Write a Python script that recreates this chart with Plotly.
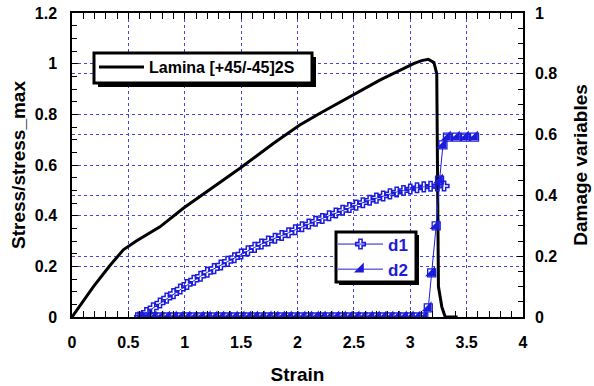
import plotly.graph_objects as go

# ---------------- data ----------------
strain_s = [0, 0.1, 0.19, 0.34, 0.455, 0.57, 0.78, 0.99, 1.135, 1.22, 1.49, 1.785,
            2.02, 2.2, 2.525, 2.73, 3.03, 3.10, 3.16, 3.21, 3.235, 3.245, 3.25, 3.28, 3.31, 3.42]
stress = [0, 0.065, 0.12, 0.205, 0.265, 0.30, 0.356, 0.43, 0.475, 0.503, 0.587, 0.685,
          0.758, 0.804, 0.883, 0.935, 1.00, 1.012, 1.017, 1.005, 0.96, 0.50, 0.12, 0.04, 0.0, 0.0]

strain_d1 = [0.60, 0.66, 0.72, 0.78, 0.84, 0.90, 0.96, 1.02, 1.08, 1.14, 1.20, 1.26, 1.32,
             1.38, 1.44, 1.50, 1.56, 1.62, 1.68, 1.74, 1.80, 1.86, 1.92, 1.98, 2.04, 2.10,
             2.16, 2.22, 2.28, 2.34, 2.40, 2.46, 2.52, 2.58, 2.64, 2.70, 2.76, 2.82, 2.88,
             2.94, 3.00, 3.06, 3.12, 3.18, 3.24, 3.30]
d1 = [0.000, 0.015, 0.030, 0.046, 0.062, 0.077, 0.092, 0.107, 0.121, 0.134, 0.147, 0.159,
      0.171, 0.183, 0.195, 0.207, 0.218, 0.229, 0.240, 0.250, 0.259, 0.268, 0.277, 0.287,
      0.297, 0.306, 0.315, 0.324, 0.333, 0.342, 0.351, 0.360, 0.368, 0.376, 0.384, 0.391,
      0.398, 0.405, 0.411, 0.416, 0.421, 0.425, 0.428, 0.430, 0.431, 0.431]

strain_d2 = [0.60, 0.66, 0.72, 0.78, 0.84, 0.90, 0.96, 1.02, 1.08, 1.14, 1.20, 1.26, 1.32,
             1.38, 1.44, 1.50, 1.56, 1.62, 1.68, 1.74, 1.80, 1.86, 1.92, 1.98, 2.04, 2.10,
             2.16, 2.22, 2.28, 2.34, 2.40, 2.46, 2.52, 2.58, 2.64, 2.70, 2.76, 2.82, 2.88,
             2.94, 3.00, 3.06, 3.12, 3.16, 3.19, 3.23, 3.26, 3.29, 3.33, 3.41, 3.49, 3.57]
d2 = [0, 0, 0, 0, 0, 0, 0, 0, 0, 0, 0, 0, 0,
      0, 0, 0, 0, 0, 0, 0, 0, 0, 0, 0, 0, 0,
      0, 0, 0, 0, 0, 0, 0, 0, 0, 0, 0, 0, 0,
      0, 0, 0, 0, 0.03, 0.145, 0.30, 0.45, 0.566, 0.592, 0.592, 0.592, 0.592]

x_ticks = [0, 0.5, 1, 1.5, 2, 2.5, 3, 3.5, 4]
y_ticks = [0, 0.2, 0.4, 0.6, 0.8, 1, 1.2]
y2_ticks = [0, 0.2, 0.4, 0.6, 0.8, 1]

# ---------------- style ----------------
W, H = 594, 386
L, R, T, B = 72, 523, 13, 317
BLUE = "#1c1cd8"
GRID = "#4444e6"
FONT = "Liberation Sans, Arial, sans-serif"


def px(xp, yp):
    return (xp - L) / (R - L), (B - yp) / (B - T)


fig = go.Figure()

fig.add_trace(go.Scatter(x=strain_s, y=stress, mode="lines",
                         line=dict(color="black", width=3),
                         name="Lamina [+45/-45]2S", legend="legend"))

fig.add_trace(go.Scatter(x=strain_d1, y=d1, mode="lines+markers", yaxis="y2",
                         line=dict(color=BLUE, width=1),
                         marker=dict(symbol="cross-open", size=8, color=BLUE,
                                     line=dict(color=BLUE, width=1.5)),
                         name="d1", legend="legend2"))

fig.add_trace(go.Scatter(x=strain_d2, y=d2, mode="lines+markers", yaxis="y2",
                         line=dict(color=BLUE, width=1),
                         marker=dict(symbol="triangle-se", size=11, color=BLUE,
                                     line=dict(width=0)),
                         name="d2", legend="legend2"))
fig.add_trace(go.Scatter(x=strain_d2, y=d2, mode="markers", yaxis="y2",
                         marker=dict(symbol="square-open", size=8, color=BLUE,
                                     line=dict(color=BLUE, width=1.3)),
                         showlegend=False, hoverinfo="skip"))

tickfont = dict(family=FONT, size=16, color="black", weight="bold")
titlefont = dict(family=FONT, size=19, color="black", weight="bold")

common = dict(ticks="inside", ticklen=6, tickcolor="black", tickwidth=1,
              showline=True, linecolor="black", linewidth=1.5,
              showgrid=True, gridcolor=GRID, griddash="dot", gridwidth=1,
              zeroline=False, tickfont=tickfont, automargin=False)

fig.update_layout(
    width=W, height=H,
    margin=dict(l=L, r=W - R, t=T, b=H - B, pad=0),
    paper_bgcolor="white", plot_bgcolor="white",
    xaxis=dict(range=[0, 4], tickvals=x_ticks, ticktext=[f"{v:g}" for v in x_ticks],
               minor=dict(dtick=0.1, ticks="inside", ticklen=5, tickcolor="black", showgrid=False),
               mirror="allticks", ticklabelstandoff=10,
               title=dict(text="Strain", font=titlefont, standoff=18), **common),
    yaxis=dict(range=[0, 1.2], tickvals=y_ticks, ticktext=[f"{v:g}" for v in y_ticks],
               minor=dict(dtick=0.05, ticks="inside", ticklen=5, tickcolor="black", showgrid=False),
               ticklabelstandoff=10,
               title=dict(text="Stress/stress_max", font=titlefont, standoff=4), **common),
    yaxis2=dict(range=[0, 1], tickvals=y2_ticks, ticktext=[f"{v:g}" for v in y2_ticks],
                overlaying="y", side="right",
                minor=dict(dtick=0.05, ticks="inside", ticklen=5, tickcolor="black", showgrid=False),
                ticklabelstandoff=7,
                title=dict(text="Damage variables", font=titlefont, standoff=17), **common),
    showlegend=True,
)

# legend boxes (frame + shadow) drawn as shapes
def box(x0, y0, x1, y1, off=4):
    a0, b0 = px(x0 + off, y1 + off)
    a1, b1 = px(x1 + off, y0 + off)
    fig.add_shape(type="rect", xref="paper", yref="paper", x0=a0, y0=b0, x1=a1, y1=b1,
                  fillcolor="black", line=dict(width=0), layer="above")
    a0, b0 = px(x0, y1)
    a1, b1 = px(x1, y0)
    fig.add_shape(type="rect", xref="paper", yref="paper", x0=a0, y0=b0, x1=a1, y1=b1,
                  fillcolor="white", line=dict(color="black", width=3), layer="above")

box(94, 53, 312, 83)
box(336, 232, 416, 282, off=3)

lx1, ly1 = px(94, 67)
lx2, ly2 = px(333, 257)
fig.update_layout(
    legend=dict(x=lx1, y=ly1, xanchor="left", yanchor="middle", bgcolor="rgba(0,0,0,0)",
                borderwidth=0, itemwidth=45,
                font=dict(family=FONT, size=16, color="black", weight="bold")),
    legend2=dict(x=lx2, y=ly2, xanchor="left", yanchor="middle", bgcolor="rgba(0,0,0,0)",
                 borderwidth=0, itemwidth=45, tracegroupgap=0,
                 font=dict(family=FONT, size=17, color=BLUE, weight="bold")),
)

fig.write_html("out.html", config={"displayModeBar": False},
               post_script="document.body.style.margin='0';document.body.style.padding='0';")
